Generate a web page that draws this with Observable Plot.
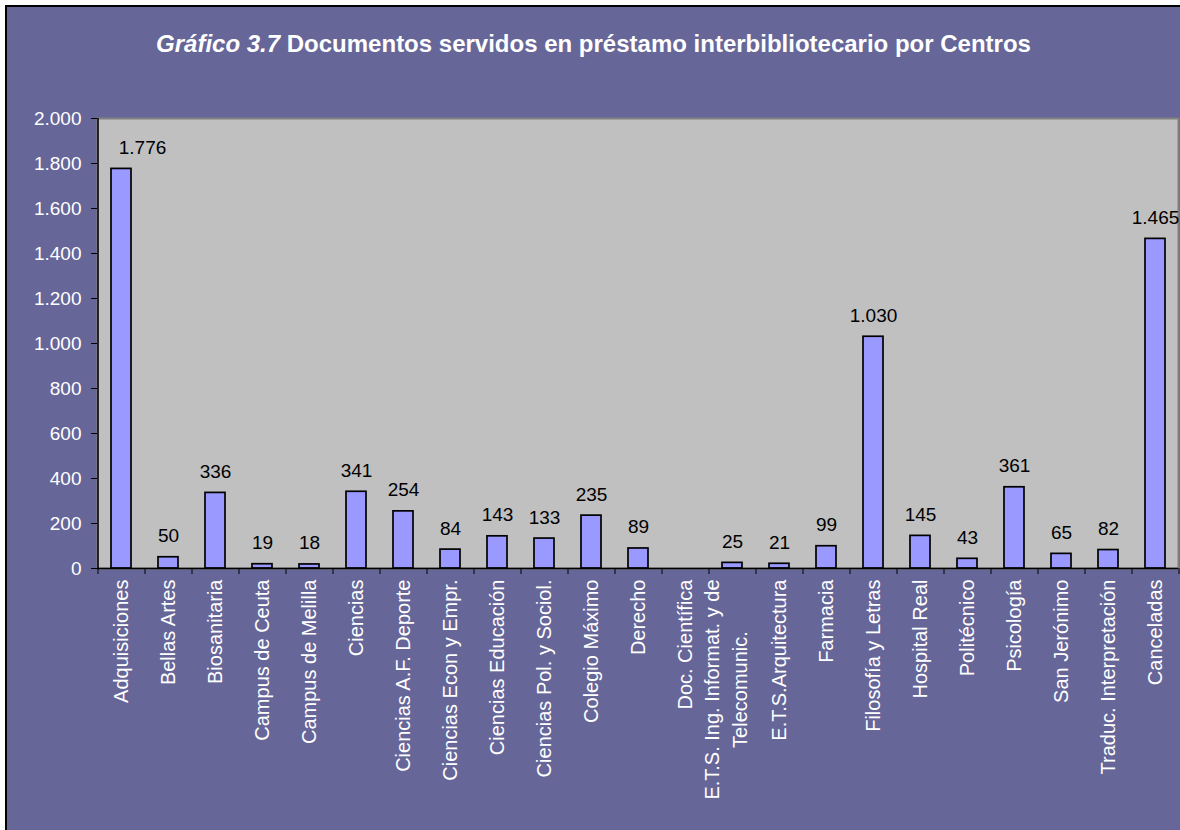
<!DOCTYPE html>
<html>
<head>
<meta charset="utf-8">
<script src="https://cdn.jsdelivr.net/npm/d3@7"></script>
<script src="https://cdn.jsdelivr.net/npm/@observablehq/plot@0.6"></script>
<style>
  html, body { margin: 0; padding: 0; background: #fff; }
  #frame {
    position: absolute; left: 5px; top: 5px; width: 1175px; height: 825px;
    box-sizing: border-box; border-left: 2px solid #000; border-top: 2px solid #000;
    background: #666699; overflow: hidden;
    font-family: "Liberation Sans", Arial, sans-serif;
  }
  #title {
    height: 80px; box-sizing: border-box; padding-top: 25px;
    text-align: center; color: #fff; font-weight: bold; font-size: 24px; line-height: 24px;
  }
</style>
</head>
<body>
<div id="frame">
  <div id="title"><i>Gráfico 3.7</i> Documentos servidos en préstamo interbibliotecario por Centros</div>
  <div id="chart"></div>
</div>
<script>
const categories = [
  "Adquisiciones", "Bellas Artes", "Biosanitaria", "Campus de Ceuta", "Campus de Melilla",
  "Ciencias", "Ciencias A.F. Deporte", "Ciencias Econ y Empr.", "Ciencias Educación",
  "Ciencias Pol. y Sociol.", "Colegio Máximo", "Derecho", "Doc. Científica",
  "E.T.S. Ing. Informat. y de\nTelecomunic.", "E.T.S.Arquitectura", "Farmacia",
  "Filosofía y Letras", "Hospital Real", "Politécnico", "Psicología", "San Jerónimo",
  "Traduc. Interpretación", "Canceladas"
];
const values = [1776, 50, 336, 19, 18, 341, 254, 84, 143, 133, 235, 89, null, 25, 21, 99, 1030, 145, 43, 361, 65, 82, 1465];
const yTicks = [0, 200, 400, 600, 800, 1000, 1200, 1400, 1600, 1800, 2000];

const fmt = d => {
  const s = String(Math.round(d));
  return s.length > 3 ? s.slice(0, s.length - 3) + "." + s.slice(-3) : s;
};

const data = categories.map((c, i) => ({cat: c, value: values[i]}));
const shown = data.filter(d => d.value != null);
const single = categories.filter(c => !c.includes("\n"));
const multi = categories.filter(c => c.includes("\n"));

const W = 1173, H = 743, mL = 90, mR = 2;
const step = (W - mL - mR) / categories.length;
const labelFont = 20, labelPad = 11, lineGap = 1.4 * labelFont;

// measure the longest line of a multi-line label so that its lines are centred on each other
const ctx = document.createElement("canvas").getContext("2d");
ctx.font = `${labelFont}px 'Liberation Sans', Arial, sans-serif`;
const halfLen = c => Math.max(...c.split("\n").map(l => ctx.measureText(l).width)) / 2;

// one text mark per line of each multi-line label
const multiMarks = multi.flatMap(c => {
  const lines = c.split("\n");
  return lines.map((line, j) => Plot.text([c], {
    x: d => d, text: () => line, frameAnchor: "bottom", rotate: -90, textAnchor: "middle",
    dx: (j - (lines.length - 1) / 2) * lineGap, dy: labelPad + halfLen(c),
    fill: "#fff", fontSize: labelFont
  }));
});

const chart = Plot.plot({
  width: W, height: H,
  marginTop: 31, marginBottom: 262, marginLeft: mL, marginRight: mR,
  style: {background: "transparent", color: "#fff", fontFamily: "'Liberation Sans', Arial, sans-serif"},
  x: {domain: categories, paddingInner: 0.575, paddingOuter: 0.2875, axis: null},
  y: {domain: [0, 2000], axis: null},
  marks: [
    Plot.frame({fill: "#C0C0C0", stroke: "#808080", strokeWidth: 2}),
    Plot.barY(shown, {x: "cat", y: "value", fill: "#9999FF", stroke: "#000", strokeWidth: 1.7}),
    Plot.text(shown.slice(0, 1), {x: "cat", y: "value", text: d => fmt(d.value), lineAnchor: "bottom", dy: -15, dx: 21, fill: "#000", fontSize: 19}),
    Plot.text(shown.slice(1), {x: "cat", y: "value", text: d => fmt(d.value), lineAnchor: "bottom", dy: -15, fill: "#000", fontSize: 19}),
    Plot.ruleY([0], {stroke: "#000", strokeWidth: 1.5}),
    Plot.ruleX([categories[0]], {dx: -step / 2, y1: 0, y2: 2000, stroke: "#000", strokeWidth: 1.5}),
    Plot.axisY({ticks: yTicks, tickFormat: fmt, tickSize: 6, tickPadding: 10, stroke: "#000", fill: "#fff", fontSize: 19, label: null}),
    Plot.axisX({tickSize: 6, text: null, dx: -step / 2, stroke: "#000", label: null}),
    Plot.axisX([categories[categories.length - 1]], {tickSize: 6, text: null, dx: step / 2, stroke: "#000", label: null}),
    Plot.axisX(single, {tickSize: 0, tickRotate: -90, tickPadding: labelPad, fill: "#fff", fontSize: labelFont, label: null}),
    ...multiMarks
  ]
});
document.getElementById("chart").appendChild(chart);
</script>
</body>
</html>
